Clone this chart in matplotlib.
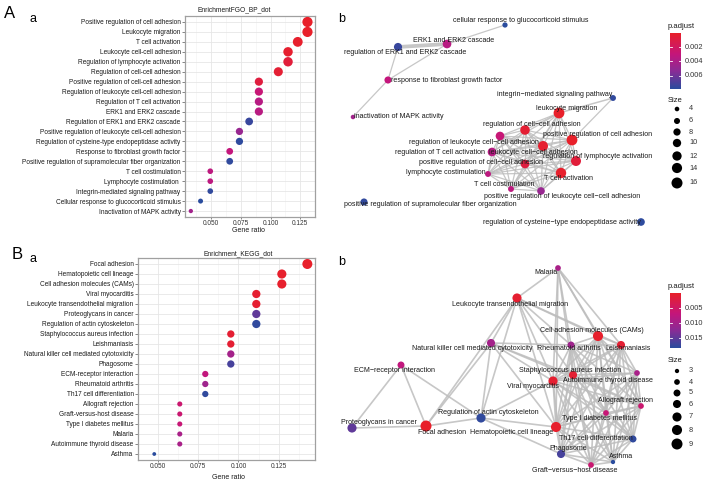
import numpy as np
import matplotlib
matplotlib.use('Agg')
import matplotlib.pyplot as plt
from matplotlib.colors import LinearSegmentedColormap, Normalize

plt.rcParams['font.family'] = ['Liberation Sans', 'DejaVu Sans']

# ---------------- data: GO BP dot plot ----------------
go_terms = ["Positive regulation of cell adhesion", "Leukocyte migration", "T cell activation",
            "Leukocyte cell-cell adhesion", "Regulation of lymphocyte activation",
            "Regulation of cell-cell adhesion", "Positive regulation of cell-cell adhesion",
            "Regulation of leukocyte cell-cell adhesion", "Regulation of T cell activation",
            "ERK1 and ERK2 cascade", "Regulation of ERK1 and ERK2 cascade",
            "Positive regulation of leukocyte cell-cell adhesion",
            "Regulation of cysteine-type endopeptidase activity",
            "Response to fibroblast growth factor",
            "Positive regulation of supramolecular fiber organization",
            "T cell costimulation", "Lymphocyte costimulation ",
            "Integrin-mediated signaling pathway", "Cellular response to glucocorticoid stimulus",
            "Inactivation of MAPK activity"]
go_count = [16, 16, 15, 14, 14, 13, 11, 11, 11, 11, 10, 9, 9, 8, 8, 6, 6, 6, 5, 4]
go_total = 122
go_padj = [0.00002, 0.00002, 0.0001, 0.0002, 0.0006, 0.0004, 0.0008, 0.0028, 0.0036, 0.0035,
           0.0075, 0.0048, 0.0078, 0.0030, 0.0077, 0.0033, 0.0033, 0.0077, 0.0079, 0.0044]
go_xticks = [0.050, 0.075, 0.100, 0.125]

# ---------------- data: KEGG dot plot ----------------
kegg_terms = ["Focal adhesion", "Hematopoietic cell lineage", "Cell adhesion molecules (CAMs)",
              "Viral myocarditis", "Leukocyte transendothelial migration", "Proteoglycans in cancer",
              "Regulation of actin cytoskeleton", "Staphylococcus aureus infection", "Leishmaniasis",
              "Natural killer cell mediated cytotoxicity", "Phagosome", "ECM-receptor interaction",
              "Rheumatoid arthritis", "Th17 cell differentiation", "Allograft rejection",
              "Graft-versus-host disease", "Type I diabetes mellitus", "Malaria",
              "Autoimmune thyroid disease", "Asthma"]
kegg_count = [9, 8, 8, 7, 7, 7, 7, 6, 6, 6, 6, 5, 5, 5, 4, 4, 4, 4, 4, 3]
kegg_total = 63
kegg_padj = [0.0001, 0.0003, 0.0003, 0.0006, 0.0006, 0.0150, 0.0178, 0.0008, 0.0008, 0.0100,
             0.0165, 0.0072, 0.0105, 0.0178, 0.0058, 0.0060, 0.0065, 0.0095, 0.0095, 0.0183]
kegg_xticks = [0.050, 0.075, 0.100, 0.125]

# ---------------- data: GO network (layout) ----------------
netA_nodes = ["cellular response to glucocorticoid stimulus", "ERK1 and ERK2 cascade",
              "regulation of ERK1 and ERK2 cascade", "response to fibroblast growth factor",
              "inactivation of MAPK activity", "integrin\u2212mediated signaling pathway",
              "leukocyte migration", "regulation of cell\u2212cell adhesion",
              "positive regulation of cell adhesion", "regulation of leukocyte cell\u2212cell adhesion",
              "leukocyte cell\u2212cell adhesion", "regulation of T cell activation",
              "regulation of lymphocyte activation", "positive regulation of cell\u2212cell adhesion",
              "lymphocyte costimulation", "T cell activation", "T cell costimulation",
              "positive regulation of leukocyte cell\u2212cell adhesion",
              "positive regulation of supramolecular fiber organization",
              "regulation of cysteine\u2212type endopeptidase activity"]
netA_go_index = [18, 9, 10, 13, 19, 17, 1, 5, 0, 7, 3, 8, 4, 6, 16, 2, 15, 11, 14, 12]
netA_x = [505, 447, 398, 388, 353, 613, 559, 525, 572, 500, 543, 492, 576, 525, 488, 561, 511, 541, 364, 641]
netA_y = [25, 44, 47, 80, 117, 98, 113, 130, 140, 136, 146, 152, 161, 164, 174, 173, 189, 191, 202, 222]
netA_lx = [521, 454, 405, 447, 399, 555, 567, 532, 598, 474, 533, 440, 598, 481, 446, 569, 504, 562, 430, 562]
netA_ly = [21, 40, 52, 80, 117, 95, 108, 125, 135, 142, 152, 152, 156, 162, 172, 179, 185, 197, 205, 222]
netA_cluster = [6, 7, 8, 9, 10, 11, 12, 13, 14, 15, 16, 17]
netA_edges = [(0, 1, 1.0), (1, 2, 3.0), (2, 3, 1.0), (1, 3, 1.0), (3, 4, 1.0), (5, 6, 1.2), (5, 8, 1.0)]

# ---------------- data: KEGG network ----------------
netB_nodes = ["Malaria", "Leukocyte transendothelial migration", "Cell adhesion molecules (CAMs)",
              "Natural killer cell mediated cytotoxicity", "Rheumatoid arthritis", "Leishmaniasis",
              "ECM\u2212receptor interaction", "Staphylococcus aureus infection",
              "Autoimmune thyroid disease", "Viral myocarditis", "Allograft rejection",
              "Type I diabetes mellitus", "Regulation of actin cytoskeleton", "Proteoglycans in cancer",
              "Focal adhesion", "Hematopoietic cell lineage", "Th17 cell differentiation", "Phagosome",
              "Asthma", "Graft\u2212versus\u2212host disease"]
netB_kegg_index = [17, 4, 2, 9, 12, 8, 11, 7, 18, 3, 14, 16, 6, 5, 0, 1, 13, 10, 19, 15]
netB_x = [558, 517, 598, 491, 571, 621, 401, 573, 637, 553, 641, 606, 481, 352, 426, 556, 633, 561, 613, 591]
netB_y = [268, 298, 336, 343, 345, 345, 365, 375, 373, 381, 406, 413, 418, 428, 426, 427, 439, 454, 462, 465]
netB_lx = [546, 510, 592, 472, 569, 628, 394, 570, 608, 533, 626, 600, 488, 379, 442, 512, 596, 568, 621, 575]
netB_ly = [273, 304, 331, 349, 349, 349, 371, 370, 380, 387, 401, 418, 413, 423, 433, 433, 439, 449, 457, 470]
netB_cluster = [2, 4, 5, 7, 8, 9, 10, 11, 15, 16, 17, 18, 19]
netB_edges = [(0, 1), (0, 2), (0, 15), (0, 5), (0, 9), (0, 4), (0, 7), (0, 10),
              (1, 3), (1, 12), (1, 14), (1, 2), (1, 4), (1, 5), (1, 9), (1, 15), (1, 7),
              (3, 4), (3, 12), (3, 14), (3, 9), (3, 7), (3, 15), (3, 10),
              (6, 13), (6, 14), (6, 12), (13, 14), (14, 12),
              (12, 15), (12, 17), (12, 9)]

# ---------------- figure ----------------
W, H = 708, 483
fig = plt.figure(figsize=(W / 100, H / 100), dpi=100)

cmap = LinearSegmentedColormap.from_list(
    'padj', [(0, '#E8202A'), (0.38, '#C4167C'), (0.68, '#8A2C96'), (1, '#2A4C9E')])


def fbox(x0, y0, x1, y1):
    return [x0 / W, 1 - y1 / H, (x1 - x0) / W, (y1 - y0) / H]


def diam(c, cmin, cmax, dmin, dmax):
    c = np.asarray(c, float)
    return dmin + (dmax - dmin) * (np.sqrt(c) - np.sqrt(cmin)) / (np.sqrt(cmax) - np.sqrt(cmin))


def s_of(d):
    return (np.asarray(d) * 0.72) ** 2


TXT = '#1A1A1A'


def dotplot(box, terms, counts, total, padj, xticks, dmin, dmax, title, title_xy, xlabel_xy):
    ax = fig.add_axes(fbox(*box))
    n = len(terms)
    ratio = np.array(counts) / total
    y = np.arange(n)
    lo, hi = ratio.min(), ratio.max()
    pad = (hi - lo) * 0.05
    ax.set_xlim(lo - pad, hi + pad)
    ax.set_ylim(n - 0.4, -0.6)
    norm = Normalize(0, max(padj))
    d = diam(counts, min(counts), max(counts), dmin, dmax)
    ax.scatter(ratio, y, s=s_of(d), c=padj, cmap=cmap, norm=norm, linewidths=0, zorder=3)
    ax.set_xticks(xticks)
    ax.set_xticklabels(['%.3f' % t for t in xticks])
    step = xticks[1] - xticks[0]
    minor = [xticks[0] - step / 2] + [t + step / 2 for t in xticks]
    ax.set_xticks(minor, minor=True)
    ax.set_yticks(y)
    ax.set_yticklabels(terms)
    ax.grid(True, which='major', color='#E6E6E6', lw=0.6, zorder=0)
    ax.grid(True, which='minor', axis='x', color='#F2F2F2', lw=0.4, zorder=0)
    ax.set_axisbelow(True)
    for sp in ax.spines.values():
        sp.set_color('#A0A0A0')
        sp.set_linewidth(0.9)
    ax.tick_params(axis='y', length=2, width=0.5, color='#555555', labelsize=4.7, pad=1.2, labelcolor=TXT)
    ax.tick_params(axis='x', length=1.5, width=0.5, color='#555555', labelsize=4.7, pad=1.0, labelcolor='#333333')
    ax.tick_params(which='minor', length=0)
    fig.text(title_xy[0] / W, 1 - title_xy[1] / H, title, fontsize=4.8, ha='center', va='center', color=TXT)
    fig.text(xlabel_xy[0] / W, 1 - xlabel_xy[1] / H, 'Gene ratio', fontsize=5, ha='center', va='center', color=TXT)
    return ax


dotplot((185, 16, 315, 217), go_terms, go_count, go_total, go_padj, go_xticks, 4.3, 10.2,
        'EnrichmentFGO_BP_dot', (234, 10), (248, 230))
dotplot((138, 258, 315, 460), kegg_terms, kegg_count, kegg_total, kegg_padj, kegg_xticks, 3.8, 10.0,
        'Enrichment_KEGG_dot', (238, 253.5), (229, 477.5))

# overlay in pixel coordinates for networks and legends
ov = fig.add_axes([0, 0, 1, 1])
ov.set_xlim(0, W)
ov.set_ylim(H, 0)
ov.axis('off')
ov.patch.set_alpha(0)

EDGE = '#BDBDBD'


def network(xs, ys, lxs, lys, names, idx, counts, padj, cluster, edges, weighted, dmin, dmax, lw):
    xs = np.array(xs); ys = np.array(ys)
    elist = []
    for e in edges:
        if weighted:
            elist.append(e)
        else:
            elist.append((e[0], e[1], 1.0))
    for i in range(len(cluster)):
        for j in range(i + 1, len(cluster)):
            elist.append((cluster[i], cluster[j], 1.0))
    for a, b, w in elist:
        ov.plot([xs[a], xs[b]], [ys[a], ys[b]], color=EDGE, lw=lw * w, alpha=0.85,
                solid_capstyle='round', zorder=2)
    c = np.array(counts)[idx]
    p = np.array(padj)[idx]
    d = diam(c, min(counts), max(counts), dmin, dmax)
    norm = Normalize(0, max(padj))
    ov.scatter(xs, ys, s=s_of(d), c=p, cmap=cmap, norm=norm, linewidths=0, zorder=3)
    for k, nm in enumerate(names):
        ov.text(lxs[k], lys[k], nm, fontsize=5.1, ha='center', va='center', color=TXT, zorder=4)


network(netA_x, netA_y, netA_lx, netA_ly, netA_nodes, netA_go_index, go_count, go_padj,
        netA_cluster, netA_edges, True, 4.5, 10.8, 0.9)
network(netB_x, netB_y, netB_lx, netB_ly, netB_nodes, netB_kegg_index, kegg_count, kegg_padj,
        netB_cluster, netB_edges, False, 4.3, 11.0, 1.2)


def legends(padj, cticks, ctitle_y, cb_top, cb_bot, sizes, size_title_y, size_ys, dmin, dmax):
    x0, x1 = 670, 681
    vmax = max(padj)
    ov.text(668, ctitle_y, 'p.adjust', fontsize=5.5, ha='left', va='center', color=TXT)
    grad = np.linspace(0, vmax, 200).reshape(-1, 1)
    ov.imshow(grad, cmap=cmap, extent=(x0, x1, cb_bot, cb_top), aspect='auto',
              interpolation='bicubic', zorder=3, norm=Normalize(0, vmax))
    for t in cticks:
        yy = cb_top + (cb_bot - cb_top) * t / vmax
        ov.plot([x0, x0 + 2], [yy, yy], color='white', lw=0.6, zorder=4)
        ov.plot([x1 - 2, x1], [yy, yy], color='white', lw=0.6, zorder=4)
        ov.text(685, yy, ('%.3f' % t), fontsize=5.3, ha='left', va='center', color='#333333')
    ov.set_xlim(0, W); ov.set_ylim(H, 0)
    ov.text(668, size_title_y, 'Size', fontsize=5.5, ha='left', va='center', color=TXT)
    d = diam(sizes, min(sizes), max(sizes), dmin, dmax)
    ov.scatter([677] * len(sizes), size_ys, s=s_of(d), c='black', linewidths=0, zorder=3)
    for v, yy in zip(sizes, size_ys):
        ov.text(689, yy, str(v), fontsize=5.3, ha='left', va='center', color='#333333')


legA_sizes = [4, 6, 8, 10, 12, 14, 16]
legB_sizes = [3, 4, 5, 6, 7, 8, 9]
legends(go_padj, [0.002, 0.004, 0.006], 26.5, 33, 89, legA_sizes, 100,
        [109, 121, 132, 143, 156, 168, 183], 4.6, 11.0)
legends(kegg_padj, [0.005, 0.010, 0.015], 286, 293, 348, legB_sizes, 360,
        [371, 382, 393, 404, 417, 430, 444], 4.3, 11.0)

# panel letters
ov.text(4, 18, 'A', fontsize=12, ha='left', va='baseline', color='black')
ov.text(29, 22, 'a', fontsize=9, ha='left', va='baseline', color='black')
ov.text(12, 259, 'B', fontsize=12, ha='left', va='baseline', color='black')
ov.text(30, 262, 'a', fontsize=9, ha='left', va='baseline', color='black')
ov.text(338, 22, 'b', fontsize=9, ha='left', va='baseline', color='black')
ov.text(338, 265, 'b', fontsize=9, ha='left', va='baseline', color='black')

fig.savefig('out.png', dpi=100)
